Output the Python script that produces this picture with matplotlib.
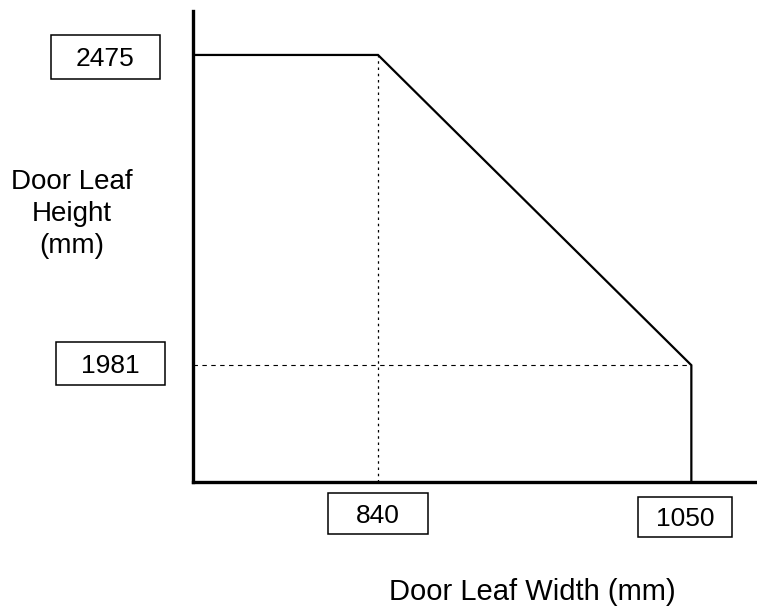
import matplotlib
matplotlib.use("Agg")
import matplotlib.pyplot as plt
from matplotlib.patches import Rectangle

plt.rcParams['font.family'] = ['Liberation Sans', 'DejaVu Sans']

# door leaf size limits (mm)
width_marks = [840, 1050]
height_marks = [2475, 1981]
width_labels = ['840', '1050']
height_labels = ['2475', '1981']

x_lim = (716, 1094)
y_lim = (1795, 2545)

W, H = 757, 612
fig = plt.figure(figsize=(W / 100, H / 100), dpi=100)
ax = fig.add_axes([193 / W, (H - 482) / H, (W - 193) / W, (482 - 11) / H])
ax.set_xlim(x_lim)
ax.set_ylim(y_lim)

# envelope: flat at max height, sloping down, then straight down at max width
env_x = [x_lim[0], width_marks[0], width_marks[1], width_marks[1]]
env_y = [height_marks[0], height_marks[0], height_marks[1], y_lim[0]]
ax.plot(env_x, env_y, color='black', lw=1.6, solid_joinstyle='miter')

# guide lines
ax.plot([width_marks[0], width_marks[0]], [y_lim[0], height_marks[0]],
        color='black', lw=0.9, ls=(0, (2, 3)))
ax.plot([x_lim[0], width_marks[1]], [height_marks[1], height_marks[1]],
        color='black', lw=0.8, ls=(0, (4, 4)))

for s in ['top', 'right']:
    ax.spines[s].set_visible(False)
for s in ['left', 'bottom']:
    ax.spines[s].set_linewidth(2.4)
ax.set_xticks([])
ax.set_yticks([])


def boxed(cx, cy, w, h, text):
    # cx, cy, w, h in pixels, y measured from the top
    fig.patches.append(Rectangle(((cx - w / 2) / W, (H - cy - h / 2) / H), w / W, h / H,
                                 transform=fig.transFigure, fill=False,
                                 edgecolor='black', lw=1.1))
    fig.text(cx / W, (H - cy) / H, text, ha='center', va='center_baseline', fontsize=19)


boxed(105.5, 57, 109, 44, height_labels[0])
boxed(110.5, 363.5, 109, 43, height_labels[1])
boxed(378, 513.5, 100, 41, width_labels[0])
boxed(685, 517, 94, 40, width_labels[1])

fig.text(72 / W, (H - 214) / H, 'Door Leaf\nHeight\n(mm)', ha='center', va='center',
         fontsize=20, linespacing=1.3)
fig.text(532 / W, (H - 592) / H, 'Door Leaf Width (mm)', ha='center', va='center',
         fontsize=21)

fig.savefig('out.png', dpi=100)
